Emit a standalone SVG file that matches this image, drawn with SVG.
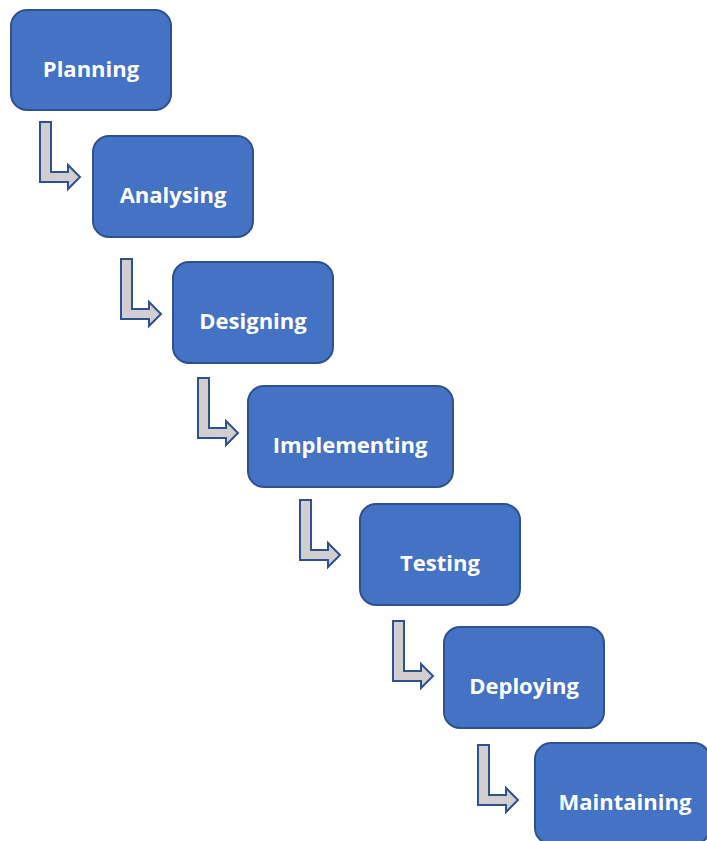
<svg xmlns="http://www.w3.org/2000/svg" width="707" height="841" viewBox="0 0 707 841">
<defs>
<style>
.box{fill:#4472C4;stroke:#2F528F;stroke-width:2}
.lbl{fill:#FFFFFF;font-family:"Open Sans","DejaVu Sans",sans-serif;font-weight:bold;font-size:22px;text-anchor:middle}
.arr{fill:#D0CECE;stroke:#2F528F;stroke-width:2;stroke-linejoin:miter}
</style>
<path id="bend" d="M0,0 H11 V50 H28 V43 L40,55 L28,67 V60 H0 Z"/>
</defs>
<rect width="707" height="841" fill="#FFFFFF"/>
<g id="connectors">
<use href="#bend" class="arr" x="40" y="122"/>
<use href="#bend" class="arr" x="121" y="259"/>
<use href="#bend" class="arr" x="198" y="378"/>
<use href="#bend" class="arr" x="300" y="500"/>
<use href="#bend" class="arr" x="393" y="621"/>
<use href="#bend" class="arr" x="478" y="745"/>
</g>
<g id="planning"><rect class="box" x="11" y="10" width="160" height="100" rx="16"/><text class="lbl" x="91" y="77">Planning</text></g>
<g id="analysing"><rect class="box" x="93" y="136" width="160" height="101" rx="16"/><text class="lbl" x="173" y="203">Analysing</text></g>
<g id="designing"><rect class="box" x="173" y="262" width="160" height="101" rx="16"/><text class="lbl" x="253" y="329">Designing</text></g>
<g id="implementing"><rect class="box" x="248" y="386" width="205" height="101" rx="16"/><text class="lbl" x="350" y="453">Implementing</text></g>
<g id="testing"><rect class="box" x="360" y="504" width="160" height="101" rx="16"/><text class="lbl" x="440" y="571">Testing</text></g>
<g id="deploying"><rect class="box" x="444" y="627" width="160" height="101" rx="16"/><text class="lbl" x="524" y="694">Deploying</text></g>
<g id="maintaining"><rect class="box" x="535" y="743" width="175" height="101" rx="16"/><text class="lbl" x="625" y="810">Maintaining</text></g>
</svg>
